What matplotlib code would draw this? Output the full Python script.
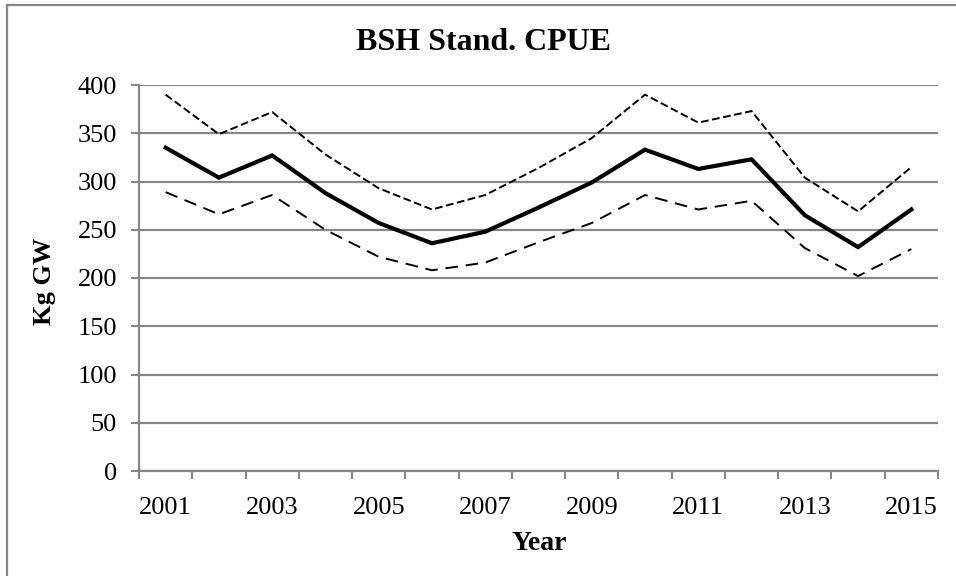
import matplotlib
matplotlib.use("Agg")
import matplotlib.pyplot as plt
from matplotlib.lines import Line2D

plt.rcParams["font.family"] = ["Liberation Serif", "DejaVu Serif"]

# data
years = [2001, 2002, 2003, 2004, 2005, 2006, 2007, 2008,
         2009, 2010, 2011, 2012, 2013, 2014, 2015]
cpue = [335, 304, 327, 288, 257, 236, 248, 273,
        299, 333, 313, 323, 265, 232, 271]
upper = [390, 349, 372, 328, 293, 271, 286, 314,
         345, 390, 361, 373, 304, 269, 315]
lower = [289, 266, 286, 250, 222, 208, 216, 237,
         257, 286, 271, 280, 231, 202, 230]
year_labels = [str(y) for y in years[::2]]

grey = "#878787"

fig = plt.figure(figsize=(9.56, 5.76), dpi=100)
ax = fig.add_axes([139 / 956, 105 / 576, 799 / 956, 386 / 576])

ax.plot(years, upper, color="black", lw=1.4, dashes=(4, 1.8))
ax.plot(years, lower, color="black", lw=1.4, dashes=(6.5, 4))
ax.plot(years, cpue, color="black", lw=3, solid_joinstyle="miter")

ax.set_ylim(0, 400)
ax.set_yticks(range(0, 401, 50))
ax.set_xlim(years[0] - 0.5, years[-1] + 0.5)

# category axis: ticks between years, labels on every other year
ax.set_xticks([y - 0.5 for y in years] + [years[-1] + 0.5])
ax.set_xticklabels([])
ax.set_xticks(years[::2], minor=True)
ax.set_xticklabels(year_labels, minor=True)
ax.tick_params(axis="x", which="major", direction="out", length=5.5,
               width=1.5, color=grey)
ax.tick_params(axis="x", which="minor", length=0, pad=19, labelsize=19)
ax.tick_params(axis="y", direction="out", length=5.8, width=1.5,
               color=grey, pad=10, labelsize=19)

ax.grid(axis="y", color=grey, lw=1.6)
ax.set_axisbelow(True)
for side in ["top", "right"]:
    ax.spines[side].set_visible(False)
for side in ["left", "bottom"]:
    ax.spines[side].set_color(grey)
    ax.spines[side].set_linewidth(1.6)

fig.text(483 / 956, 1 - 43 / 576, "BSH Stand. CPUE", ha="center",
         va="center", fontsize=23, fontweight="bold")
fig.text(539 / 956, 1 - 544 / 576, "Year", ha="center", va="center",
         fontsize=20, fontweight="bold")
fig.text(44 / 956, 1 - 281 / 576, "Kg GW", ha="center", va="center",
         fontsize=19, fontweight="bold", rotation=90)

# chart area border (left and top edges only visible)
fig.add_artist(Line2D([7 / 956, 7 / 956], [0, 1 - 5 / 576],
                      transform=fig.transFigure, color=grey, lw=1.6))
fig.add_artist(Line2D([7 / 956, 1], [1 - 5 / 576, 1 - 5 / 576],
                      transform=fig.transFigure, color=grey, lw=1.6))

fig.savefig("out.png", dpi=100)
